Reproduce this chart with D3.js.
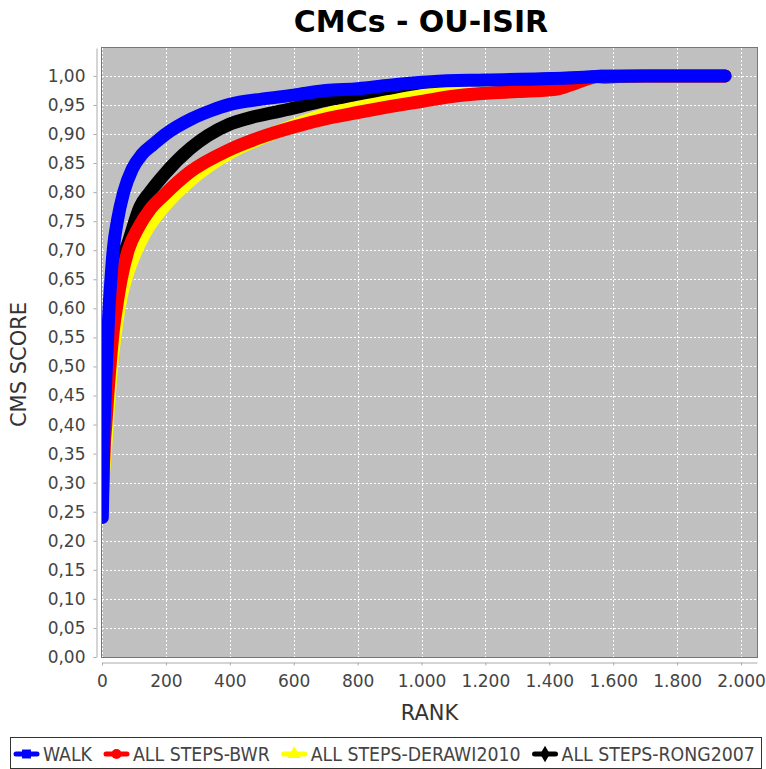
<!DOCTYPE html>
<html>
<head>
<meta charset="utf-8">
<script src="https://cdn.jsdelivr.net/npm/d3@7"></script>
<style>
  body { margin: 0; background: #fff; }
  text { font-family: "DejaVu Sans Condensed", "DejaVu Sans", sans-serif; }
</style>
</head>
<body>
<div id="chart"></div>
<script>
// CMC curves: [rank, score]
const walk = [[1,0.24],[3,0.30],[5,0.36],[8,0.42],[12,0.48],[17,0.54],[22,0.60],[28,0.65],[35,0.70],[48,0.75],[68,0.80],[95,0.84],[125,0.865],[160,0.882],[200,0.9],[280,0.926],[340,0.94],[400,0.951],[500,0.96],[600,0.967],[700,0.975],[800,0.978],[900,0.984],[1030,0.99],[1200,0.993],[1480,0.997],[1550,0.999],[1700,1.0],[1950,1.0]];
const bwr = [[1,0.27],[4,0.32],[8,0.37],[12,0.40],[18,0.45],[25,0.50],[35,0.56],[45,0.60],[60,0.65],[82,0.70],[115,0.74],[150,0.77],[194,0.795],[276,0.835],[395,0.872],[500,0.895],[600,0.912],[715,0.928],[800,0.937],[900,0.947],[1000,0.956],[1100,0.965],[1200,0.97],[1300,0.973],[1420,0.977],[1470,0.985],[1520,0.995],[1560,1.0],[1950,1.0]];
const derawi = [[1,0.28],[4,0.31],[10,0.35],[20,0.43],[30,0.50],[45,0.57],[60,0.62],[80,0.66],[100,0.69],[130,0.725],[194,0.775],[276,0.82],[395,0.866],[500,0.893],[600,0.915],[715,0.936],[800,0.946],[900,0.956],[1000,0.966],[1100,0.973],[1300,0.985],[1500,0.995],[1600,1.0],[1950,1.0]];
const rong = [[1,0.29],[5,0.35],[10,0.42],[20,0.52],[30,0.58],[45,0.64],[60,0.68],[80,0.71],[119,0.775],[150,0.80],[194,0.83],[276,0.875],[395,0.916],[478,0.93],[589,0.943],[700,0.958],[800,0.966],[900,0.975],[1000,0.982],[1200,0.99],[1500,0.997],[1700,1.0],[1950,1.0]];

const seriesNames = ['WALK', 'ALL STEPS-BWR', 'ALL STEPS-DERAWI2010', 'ALL STEPS-RONG2007'];
const seriesData = [walk, bwr, derawi, rong];
const seriesColors = ['#0000ff', '#ff0000', '#ffff00', '#000000'];
const seriesShapes = [d3.symbolSquare, d3.symbolCircle, d3.symbolTriangle, d3.symbolDiamond];

const xTicks = [0, 200, 400, 600, 800, 1000, 1200, 1400, 1600, 1800, 2000];
const yTicks = [0, 0.05, 0.1, 0.15, 0.2, 0.25, 0.3, 0.35, 0.4, 0.45, 0.5, 0.55, 0.6, 0.65, 0.7, 0.75, 0.8, 0.85, 0.9, 0.95, 1.0];

const width = 766, height = 769;
const margin = {top: 48, right: 9, bottom: 112, left: 102};
const plotW = width - margin.left - margin.right;
const plotH = height - margin.top - margin.bottom;

const loc = d3.formatLocale({decimal: ',', thousands: '.', grouping: [3], currency: ['', '']});
const fx = loc.format(',d');
const fy = loc.format('.2f');

const x = d3.scaleLinear().domain([0, 2050]).range([margin.left, margin.left + plotW]);
const y = d3.scaleLinear().domain([0, 1.048]).range([margin.top + plotH, margin.top]);

const svg = d3.select('#chart').append('svg')
  .attr('width', width)
  .attr('height', height);

svg.append('defs').append('clipPath').attr('id', 'plotclip')
  .append('rect')
  .attr('x', margin.left).attr('y', margin.top)
  .attr('width', plotW).attr('height', plotH);

// title
svg.append('text')
  .attr('x', 421).attr('y', 32)
  .attr('text-anchor', 'middle')
  .style('font-family', '"DejaVu Sans", sans-serif')
  .style('font-weight', 'bold')
  .style('font-size', '30px')
  .text('CMCs - OU-ISIR');

// plot background
svg.append('rect')
  .attr('x', margin.left).attr('y', margin.top)
  .attr('width', plotW).attr('height', plotH)
  .attr('fill', '#c0c0c0');

const grid = svg.append('g')
  .attr('stroke', '#ffffff')
  .attr('stroke-width', 1)
  .attr('stroke-dasharray', '2,2');

grid.selectAll('line.v').data(xTicks).join('line')
  .attr('class', 'v')
  .attr('x1', d => Math.round(x(d)) + 0.5).attr('x2', d => Math.round(x(d)) + 0.5)
  .attr('y1', margin.top).attr('y2', margin.top + plotH);

grid.selectAll('line.h').data(yTicks).join('line')
  .attr('class', 'h')
  .attr('y1', d => Math.round(y(d)) + 0.5).attr('y2', d => Math.round(y(d)) + 0.5)
  .attr('x1', margin.left).attr('x2', margin.left + plotW);

// series, last one drawn first so WALK ends on top
const line = d3.line()
  .x(d => x(d[0]))
  .y(d => y(d[1]))
  .curve(d3.curveMonotoneX);

const lines = svg.append('g').attr('clip-path', 'url(#plotclip)');
for (let i = seriesData.length - 1; i >= 0; i--) {
  lines.append('path')
    .datum(seriesData[i])
    .attr('d', line)
    .attr('fill', 'none')
    .attr('stroke', seriesColors[i])
    .attr('stroke-width', 13)
    .attr('stroke-linecap', 'round')
    .attr('stroke-linejoin', 'round');
}

// plot outline
svg.append('rect')
  .attr('x', margin.left - 0.5).attr('y', margin.top - 0.5)
  .attr('width', plotW + 1).attr('height', plotH + 1)
  .attr('fill', 'none')
  .attr('stroke', '#777');

// axes
const yAxis = svg.append('g')
  .attr('transform', `translate(${margin.left - 5.5},0)`)
  .call(d3.axisLeft(y).tickValues(yTicks).tickFormat(fy).tickSize(3).tickSizeOuter(0).tickPadding(8));

const xAxis = svg.append('g')
  .attr('transform', `translate(0,${margin.top + plotH + 5.5})`)
  .call(d3.axisBottom(x).tickValues(xTicks).tickFormat(fx).tickSize(3).tickSizeOuter(0).tickPadding(9));

[yAxis, xAxis].forEach(a => {
  a.select('.domain').attr('stroke', '#aaa');
  a.selectAll('.tick line').attr('stroke', '#aaa');
  a.selectAll('.tick text')
    .attr('fill', '#444')
    .style('font-size', '17px')
    .style('font-family', '"DejaVu Sans", sans-serif');
});

// axis titles
svg.append('text')
  .attr('x', margin.left + plotW / 2).attr('y', 720)
  .attr('text-anchor', 'middle')
  .attr('fill', '#333')
  .style('font-family', '"DejaVu Sans", sans-serif')
  .style('font-size', '21px')
  .text('RANK');

svg.append('text')
  .attr('transform', `translate(26,${margin.top + plotH / 2 + 12}) rotate(-90)`)
  .attr('text-anchor', 'middle')
  .attr('fill', '#333')
  .style('font-family', '"DejaVu Sans", sans-serif')
  .style('font-size', '21px')
  .text('CMS SCORE');

// legend
const legend = svg.append('g');
legend.append('rect')
  .attr('x', 10.5).attr('y', 737.5)
  .attr('width', 751).attr('height', 31)
  .attr('fill', '#fff')
  .attr('stroke', '#333');

let lx = 10;
seriesNames.forEach((name, i) => {
  const g = legend.append('g').attr('transform', `translate(${lx},754)`);
  g.append('line')
    .attr('x1', 6).attr('x2', 27)
    .attr('stroke', seriesColors[i])
    .attr('stroke-width', 5)
    .attr('stroke-linecap', 'round');
  g.append('path')
    .attr('transform', 'translate(16.5,0)')
    .attr('d', d3.symbol(seriesShapes[i], 80)())
    .attr('fill', seriesColors[i]);
  const t = g.append('text')
    .attr('x', 33).attr('dy', '0.36em')
    .attr('fill', '#444')
    .style('font-size', '19.3px')
    .text(name);
  lx += 33 + t.node().getComputedTextLength() + 8;
});
</script>
</body>
</html>
